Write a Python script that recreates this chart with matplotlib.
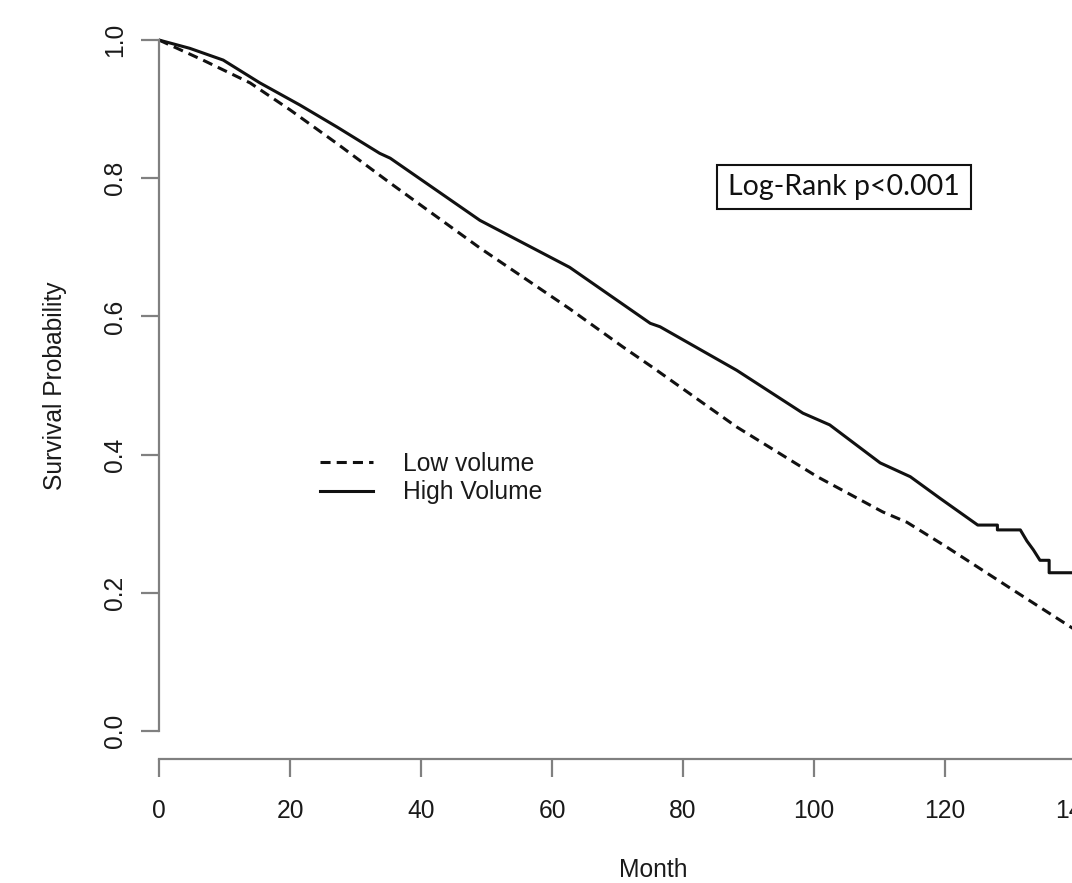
import matplotlib
matplotlib.use("Agg")
import matplotlib.pyplot as plt
from matplotlib.patches import Rectangle

# ---- data ----
high_month = [0, 4.7, 9.8, 15.4, 21.5, 27.2, 33.7, 35.3, 49, 62.7, 75, 76.5, 88.2,
              98.3, 102.4, 110.1, 114.7, 119.2, 125, 128, 128, 131.5, 132.5, 133.5,
              134.5, 135.9, 135.9, 151]
high_surv = [1.0, 0.988, 0.971, 0.938, 0.906, 0.874, 0.836, 0.829, 0.739, 0.671, 0.590,
             0.585, 0.522, 0.460, 0.443, 0.388, 0.368, 0.337, 0.298, 0.298, 0.291,
             0.291, 0.275, 0.262, 0.247, 0.247, 0.229, 0.229]

low_month = [0, 6.7, 13.9, 20, 27.2, 35.3, 49, 62.7, 70.8, 75.4, 88.2, 100.5, 110.5,
             114.2, 120.3, 130.4, 139.1, 143]
low_surv = [1.0, 0.971, 0.938, 0.899, 0.850, 0.793, 0.699, 0.611, 0.556, 0.526, 0.440,
            0.368, 0.317, 0.302, 0.266, 0.204, 0.151, 0.128]

x_ticks = [0, 20, 40, 60, 80, 100, 120, 140]
y_ticks = [0.0, 0.2, 0.4, 0.6, 0.8, 1.0]
y_tick_labels = ["0.0", "0.2", "0.4", "0.6", "0.8", "1.0"]
series_labels = ["Low volume", "High Volume"]
annotation = "Log-Rank p<0.001"

# ---- figure ----
W, H = 1072, 883
fig = plt.figure(figsize=(W / 100, H / 100), dpi=100)
plt.rcParams['font.family'] = ['Liberation Sans', 'DejaVu Sans']

x_px_per_month = 6.55
xmax = 151
left_px, bottom_px, top_px = 159, 758.6, 12.4
ax = fig.add_axes([left_px / W, 1 - bottom_px / H,
                   xmax * x_px_per_month / W, (bottom_px - top_px) / H])
ax.set_xlim(0, xmax)
ax.set_ylim(-0.04, 1.04)

lw = 2.2
ink = '#111111'
ax.plot(low_month, low_surv, color=ink, lw=lw, linestyle=(0, (3.3, 2.0)),
        label=series_labels[0])
ax.plot(high_month, high_surv, color=ink, lw=lw, label=series_labels[1])

# R-style axes
for s in ['top', 'right']:
    ax.spines[s].set_visible(False)
gray = '#808080'
for s in ['left', 'bottom']:
    ax.spines[s].set_color(gray)
    ax.spines[s].set_linewidth(1.6)
ax.spines['left'].set_bounds(0, 1)
ax.spines['bottom'].set_bounds(0, 140)

fs = 17.7
ax.set_xticks(x_ticks)
ax.set_xticklabels([str(v) for v in x_ticks])
ax.set_yticks(y_ticks)
ax.set_yticklabels(y_tick_labels, rotation=90, va='center')
ax.tick_params(axis='both', direction='out', length=13, width=1.6, color=gray,
               labelsize=fs, labelcolor='#1a1a1a')
ax.tick_params(axis='x', pad=16)
ax.tick_params(axis='y', pad=10)

ax.set_xlabel("Month", fontsize=fs, color='#1a1a1a')
ax.set_ylabel("Survival Probability", fontsize=fs, color='#1a1a1a')
ax.xaxis.set_label_coords(0.5, -0.133)
ax.yaxis.set_label_coords((67 - left_px) / (xmax * x_px_per_month), 0.5)

leg = ax.legend(loc='upper left', bbox_to_anchor=(320 / W, 1 - 452 / H),
                bbox_transform=fig.transFigure, frameon=False, fontsize=fs,
                borderpad=0, borderaxespad=0, handlelength=2.15,
                handletextpad=1.22, labelspacing=0.17)
for t in leg.get_texts():
    t.set_color('#1a1a1a')

# annotation box
box_l, box_t, box_r, box_b = 717, 165, 971, 209
fig.add_artist(Rectangle((box_l / W, 1 - box_b / H), (box_r - box_l) / W,
                         (box_b - box_t) / H, transform=fig.transFigure,
                         fill=False, edgecolor='#111111', lw=1.5))
fig.text((box_l + box_r) / 2 / W, 1 - (box_t + box_b) / 2 / H, annotation,
         ha='center', va='center', fontsize=20.5, family=['Lato', 'DejaVu Sans'],
         color='#111111')

fig.savefig("out.png", dpi=100)
